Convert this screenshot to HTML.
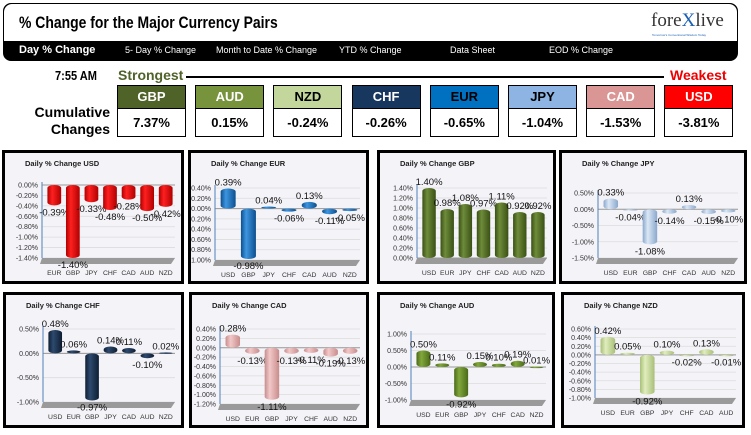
<!DOCTYPE html>
<html><head><meta charset="utf-8">
<style>
body{margin:0;width:751px;height:435px;background:#fff;position:relative;overflow:hidden;font-family:"Liberation Sans",sans-serif}
.abs{position:absolute}
#hdr{left:3px;top:3px;width:733px;height:56px;border:1px solid #000;border-radius:8px;background:#000;overflow:hidden}
#hdrtop{left:0;top:0;width:733px;height:37px;background:#fff;border-radius:8px 8px 0 0}
#title{left:15px;top:9px;font-size:17px;font-weight:bold;transform:scaleX(.82);transform-origin:left;white-space:nowrap}
.tab{top:41px;color:#fff;font-size:9px;white-space:nowrap}
.box{width:67px;border:1px solid #000;}
.box .t{height:22px;color:#fff;font-weight:bold;font-size:13px;text-align:center;line-height:22px;border-bottom:1px solid #000}
.box .v{height:27px;background:#fff;font-weight:bold;font-size:13px;text-align:center;line-height:27px}
.panel{border:3px solid #000;background:#f4f3f8;box-sizing:border-box}
</style></head><body>
<div id="hdr" class="abs">
 <div id="hdrtop" class="abs">
  <div id="title" class="abs">% Change for the Major Currency Pairs</div>
  <div class="abs" style="left:647px;top:6px;font-family:'Liberation Serif',serif;font-size:19px;color:#333">fore<span style="color:#1a5fb4">X</span>live</div>
  <div class="abs" style="left:648px;top:29px;font-size:3px;color:#1a5fb4">Tomorrow's Conventional Wisdom Today</div>
 </div>
 <div class="abs tab" style="left:15px;top:40px;font-size:11px;font-weight:bold">Day % Change</div>
 <div class="abs tab" style="left:121px">5- Day % Change</div>
 <div class="abs tab" style="left:212px">Month to Date % Change</div>
 <div class="abs tab" style="left:335px">YTD % Change</div>
 <div class="abs tab" style="left:446px">Data Sheet</div>
 <div class="abs tab" style="left:545px">EOD % Change</div>
</div>
<div class="abs" style="left:55px;top:68px;font-size:13px;font-weight:bold;transform:scaleX(.85);transform-origin:left">7:55 AM</div>
<div class="abs" style="left:118px;top:67px;font-size:14px;font-weight:bold;color:#4f6228">Strongest</div>
<div class="abs" style="left:186px;top:76px;width:478px;height:2px;background:#000"></div>
<div class="abs" style="left:670px;top:67px;font-size:14px;font-weight:bold;color:#e00">Weakest</div>
<div class="abs" style="left:20px;top:104px;width:90px;text-align:right;font-size:14px;font-weight:bold;line-height:17px">Cumulative<br>Changes</div>
<div id="boxes"></div>
<div id="charts"></div>
<script>
const boxNames=["GBP","AUD","NZD","CHF","EUR","JPY","CAD","USD"];
const boxValues=["7.37%","0.15%","-0.24%","-0.26%","-0.65%","-1.04%","-1.53%","-3.81%"];
const boxColors=["#4f6228","#77933c","#c3d69b","#17375e","#0070c0","#8db4e2","#da9694","#ff0000"];
const boxText=["#fff","#fff","#000","#fff","#000","#000","#fff","#fff"];
const bc=document.getElementById('boxes');
boxNames.forEach((n,i)=>{
 const d=document.createElement('div');d.className='abs box';
 d.style.left=(117+i*78.2)+'px';d.style.top='85px';
 
 
 d.innerHTML='<div class="t" style="background:'+boxColors[i]+';color:'+boxText[i]+'">'+n+'</div><div class="v">'+boxValues[i]+'</div>';
 bc.appendChild(d);
});

const usdCats=["EUR","GBP","JPY","CHF","CAD","AUD","NZD"];
const usdVals=[-0.39,-1.40,-0.33,-0.48,-0.28,-0.50,-0.42];
const usdTicks=[0,-0.2,-0.4,-0.6,-0.8,-1.0,-1.2,-1.4];
const eurCats=["USD","GBP","JPY","CHF","CAD","AUD","NZD"];
const eurVals=[0.39,-0.98,0.04,-0.06,0.13,-0.11,-0.05];
const eurTicks=[0.4,0.2,0,-0.2,-0.4,-0.6,-0.8,-1.0];
const gbpCats=["USD","EUR","JPY","CHF","CAD","AUD","NZD"];
const gbpVals=[1.40,0.98,1.08,0.97,1.11,0.92,0.92];
const gbpTicks=[1.4,1.2,1.0,0.8,0.6,0.4,0.2,0];
const jpyCats=["USD","EUR","GBP","CHF","CAD","AUD","NZD"];
const jpyVals=[0.33,-0.04,-1.08,-0.14,0.13,-0.15,-0.10];
const jpyTicks=[0.5,0,-0.5,-1.0,-1.5];
const chfCats=["USD","EUR","GBP","JPY","CAD","AUD","NZD"];
const chfVals=[0.48,0.06,-0.97,0.14,0.11,-0.10,0.02];
const chfTicks=[0.5,0,-0.5,-1.0];
const cadCats=["USD","EUR","GBP","JPY","CHF","AUD","NZD"];
const cadVals=[0.28,-0.13,-1.11,-0.13,-0.11,-0.19,-0.13];
const cadTicks=[0.4,0.2,0,-0.2,-0.4,-0.6,-0.8,-1.0,-1.2];
const audCats=["USD","EUR","GBP","JPY","CHF","CAD","NZD"];
const audVals=[0.50,0.11,-0.92,0.15,0.10,0.19,0.01];
const audTicks=[1.0,0.5,0,-0.5,-1.0];
const nzdCats=["USD","EUR","GBP","JPY","CHF","CAD","AUD"];
const nzdVals=[0.42,0.05,-0.92,0.10,-0.02,0.13,-0.01];
const nzdTicks=[0.6,0.4,0.2,0,-0.2,-0.4,-0.6,-0.8,-1.0];

const NS='http://www.w3.org/2000/svg';
function mk(tag,attrs,parent){const e=document.createElementNS(NS,tag);for(const k in attrs)e.setAttribute(k,attrs[k]);parent.appendChild(e);return e;}
function chart(cfg){
 const {key,title,cats,vals,ticks,px,py,pw,ph,ax,top,bot,color,dark}=cfg;
 const div=document.createElement('div');div.className='abs panel';
 div.style.left=px+'px';div.style.top=py+'px';div.style.width=pw+'px';div.style.height=ph+'px';
 
 
 document.getElementById('charts').appendChild(div);
 const W=pw-6,H=ph-6;
 const svg=mk('svg',{width:W,height:H,style:'position:absolute;left:0;top:0'},div);
 const defs=mk('defs',{},svg);
 const g=mk('linearGradient',{id:'g'+key,x1:0,x2:1,y1:0,y2:0},defs);
 mk('stop',{offset:'0',"stop-color":dark},g);mk('stop',{offset:'0.35',"stop-color":color},g);mk('stop',{offset:'1',"stop-color":dark},g);
 const tmax=Math.max(...ticks),tmin=Math.min(...ticks);
 const y=v=>top+(tmax-v)/(tmax-tmin)*(bot-top);
 const x0=ax+3,x1=W-6,slot=(x1-x0)/cats.length;
 const t=mk('text',{x:cfg.tx||20,y:13,"font-size":"7.5",'font-weight':'bold',fill:'#222'},svg);t.textContent=title;
 
 
 ticks.forEach(v=>{
  mk('line',{x1:ax,x2:x1,y1:y(v),y2:y(v),stroke:'#dcdcdc','stroke-width':0.8},svg);
  const tl=mk('text',{x:ax-4,y:y(v)+2.5,"font-size":"7","text-anchor":"end",fill:'#333'},svg);
  tl.textContent=v.toFixed(2)+'%';
  
  
 });
 mk('polygon',{points:`${ax},${bot} ${x1},${bot} ${x1-4},${bot+6} ${ax-2},${bot+6}`,fill:'#9a9a9a'},svg);
 mk('line',{x1:ax,x2:x1,y1:y(0),y2:y(0),stroke:'#999','stroke-width':1},svg);
 mk('line',{x1:ax,x2:ax,y1:top-3,y2:bot,stroke:'#4f81bd','stroke-width':1},svg);
 cats.forEach((c,i)=>{
  const v=vals[i],cx=x0+slot*(i+0.5),bw=slot*0.74;
  const ya=y(Math.max(v,0)),yb=y(Math.min(v,0));
  const r=mk('rect',{x:cx-bw/2,y:ya,width:bw,height:Math.max(yb-ya,1.5),rx:bw/2,ry:3,fill:'url(#g'+key+')'},svg);
  
  
  const lab=mk('text',{x:cx,y:v>=0?ya-3:yb+10,"font-size":"9.5","text-anchor":"middle",fill:'#111'},svg);
  lab.textContent=v.toFixed(2)+'%';
  
  
  const cl=mk('text',{x:cx,y:bot+17,"font-size":"6.8","text-anchor":"middle",fill:'#333'},svg);
  cl.textContent=c;
  
  
 });
}
chart({key:'usd',title:'Daily % Change USD',cats:usdCats,vals:usdVals,ticks:usdTicks,px:2,py:150,pw:182,ph:134,ax:37,top:32,bot:105,color:'#ff2020',dark:'#b00000'});
chart({key:'eur',title:'Daily % Change EUR',cats:eurCats,vals:eurVals,ticks:eurTicks,px:188,py:150,pw:181,ph:134,ax:24,top:35,bot:107,color:'#3d95e0',dark:'#0d4f8f'});
chart({key:'gbp',title:'Daily % Change GBP',cats:gbpCats,vals:gbpVals,ticks:gbpTicks,px:377,py:150,pw:179,ph:134,ax:37,top:35,bot:105,color:'#6e8c3a',dark:'#3a5015'});
chart({key:'jpy',title:'Daily % Change JPY',cats:jpyCats,vals:jpyVals,ticks:jpyTicks,px:559,py:150,pw:188,ph:134,ax:36,top:40,bot:105,color:'#dbe7f5',dark:'#8aa8cc'});
chart({key:'chf',title:'Daily % Change CHF',cats:chfCats,vals:chfVals,ticks:chfTicks,px:3,py:292,pw:181,ph:136,ax:37,top:34,bot:107,color:'#2d4a6e',dark:'#0e1e33'});
chart({key:'cad',title:'Daily % Change CAD',cats:cadCats,vals:cadVals,ticks:cadTicks,px:189,py:292,pw:180,ph:136,ax:28,top:34,bot:109,color:'#f2c8c8',dark:'#c88c8c'});
chart({key:'aud',title:'Daily % Change AUD',cats:audCats,vals:audVals,ticks:audTicks,px:377,py:292,pw:178,ph:136,ax:31,top:39,bot:105,color:'#82a83c',dark:'#4a6a18'});
chart({key:'nzd',title:'Daily % Change NZD',cats:nzdCats,vals:nzdVals,ticks:nzdTicks,px:561,py:292,pw:184,ph:136,ax:31,top:34,bot:103,color:'#e0edbd',dark:'#a8bf78'});
</script>
</body></html>
